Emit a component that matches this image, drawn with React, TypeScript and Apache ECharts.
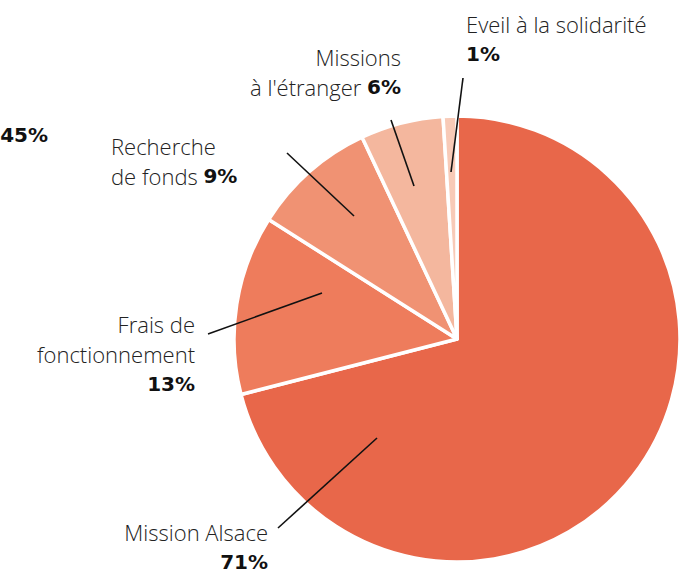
import React, { useEffect, useRef } from "react";
import * as echarts from "echarts";

const categories = [
  "Mission Alsace",
  "Frais de\nfonctionnement",
  "Recherche\nde fonds",
  "Missions\nà l'étranger",
  "Eveil à la solidarité",
];
const values = [71, 13, 9, 6, 1];
const pctInline = [false, false, true, true, false];
const colors = ["#E8674A", "#EE7C5C", "#F09273", "#F4B79E", "#F8CAB7"];
const strayLabel = "45%";

// label anchor (annotation layout)
const labelPos = [
  { x: 268, y: 517, align: "right" },
  { x: 195, y: 309, align: "right" },
  { x: 111, y: 131, align: "left" },
  { x: 401, y: 42, align: "right" },
  { x: 466, y: 9, align: "left" },
];
const leaderLines = [
  [278, 528, 377, 438],
  [208, 334, 322, 293],
  [287, 153, 354, 216],
  [391, 120, 414, 186],
  [463, 78, 451, 172],
];

const nameFont = "'Open Sans', Lato, sans-serif";
const pctFont = "'DejaVu Sans', sans-serif";

export default function App() {
  const ref = useRef<HTMLDivElement>(null);
  useEffect(() => {
    if (!ref.current) return;
    const chart = echarts.init(ref.current, undefined, { renderer: "svg" });
    const data = categories.map((c, i) => ({
      name: c,
      value: values[i],
      itemStyle: { color: colors[i] },
    }));
    chart.setOption({
      animation: false,
      graphic: [
        ...leaderLines.map((l) => ({
          type: "line",
          shape: { x1: l[0], y1: l[1], x2: l[2], y2: l[3] },
          style: { stroke: "#111", lineWidth: 1.6 },
          z: 100,
        })),
        {
          type: "text",
          x: 48,
          y: 135,
          style: {
            text: strayLabel,
            font: `900 20px ${pctFont}`,
            fill: "#111",
            align: "right",
            verticalAlign: "middle",
          },
        },
      ],
      series: [
        {
          type: "pie",
          center: [457, 339],
          radius: [0, 223],
          startAngle: 90,
          clockwise: true,
          avoidLabelOverlap: false,
          data,
          itemStyle: { borderColor: "#fff", borderWidth: 3.5 },
          labelLine: { show: false },
          label: {
            show: true,
            formatter: (p: any) => {
              const i = p.dataIndex;
              const lines = String(p.name).split("\n").map((s) => `{n|${s}}`);
              const pct = `{p|${values[i]}%}`;
              if (pctInline[i]) lines[lines.length - 1] += `{n| }${pct}`;
              else lines.push(pct);
              return lines.join("\n");
            },
            rich: {
              n: { fontFamily: nameFont, fontWeight: 300, fontSize: 22, color: "#222", lineHeight: 30 },
              p: { fontFamily: pctFont, fontWeight: 900, fontSize: 20, color: "#111", lineHeight: 30 },
            },
          },
          labelLayout: (params: any) => {
            const lp = labelPos[params.dataIndex];
            return { x: lp.x, y: lp.y, align: lp.align, verticalAlign: "top", hideOverlap: false };
          },
        },
      ],
    });
    return () => chart.dispose();
  }, []);
  return (
    <div
      ref={ref}
      style={{ position: "fixed", left: 0, top: 0, width: 693, height: 574, background: "#fff" }}
    />
  );
}
